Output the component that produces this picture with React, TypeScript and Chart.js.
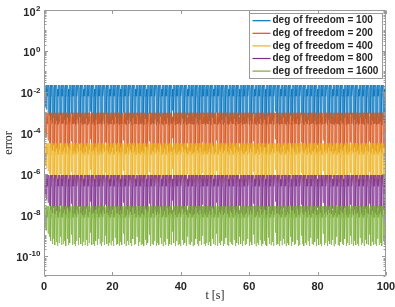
import { useEffect, useRef } from 'react';
import { Chart, registerables } from 'chart.js';

Chart.register(...registerables);

// ---- data ----
const seriesLabels = [
  'deg of freedom = 100',
  'deg of freedom = 200',
  'deg of freedom = 400',
  'deg of freedom = 800',
  'deg of freedom = 1600',
];
const seriesColors = ['#0072BD', '#D95319', '#EDB120', '#7E2F8E', '#77AC30'];
// peak error of each oscillating series
const seriesPeaks = [2.16e-2, 9.5e-4, 3.05e-5, 8.6e-7, 2.6e-8];
// depth of each trough below the peak, in decades (one trough every 0.4 s from t = 0 to t = 100)
const troughDecades = [
  -1.0, -1.1, -1.2, -1.35, -1.5, -1.7, -1.85, -1.6, -1.9, -1.75,
  -1.95, -1.8, -1.5, -1.9, -1.85, -1.7, -1.95, -1.6, -1.9, -1.8,
  -1.4, -1.9, -1.85, -1.95, -1.7, -1.9, -1.55, -1.85, -1.95, -1.75,
  -1.9, -1.65, -1.95, -1.8, -1.3, -1.9, -1.85, -1.95, -1.7, -1.9,
  -1.6, -1.85, -1.95, -1.75, -1.9, -1.45, -1.85, -1.95, -1.8, -1.9,
  -1.7, -1.95, -1.55, -1.9, -1.85, -1.95, -1.75, -1.9, -1.35, -1.85,
  -1.95, -1.7, -1.9, -1.8, -1.95, -1.6, -1.9, -1.85, -1.5, -1.95,
  -1.75, -1.9, -1.85, -1.95, -1.65, -1.9, -1.8, -1.4, -1.95, -1.85,
  -1.9, -1.7, -1.95, -1.8, -1.9, -1.55, -1.85, -1.95, -1.75, -1.9,
  -1.6, -1.95, -1.85, -1.9, -1.25, -1.8, -1.95, -1.7, -1.9, -1.85,
  -1.95, -1.65, -1.9, -1.8, -1.95, -1.5, -1.85, -1.9, -1.75, -1.95,
  -1.9, -1.6, -1.85, -1.95, -1.7, -1.9, -1.45, -1.85, -1.95, -1.8,
  -1.9, -1.75, -1.95, -1.6, -1.85, -1.9, -1.35, -1.95, -1.8, -1.9,
  -1.7, -1.95, -1.85, -1.55, -1.9, -1.95, -1.75, -1.85, -1.9, -1.65,
  -1.95, -1.8, -1.9, -1.5, -1.85, -1.95, -1.7, -1.9, -1.85, -1.6,
  -1.95, -1.75, -1.9, -1.4, -1.85, -1.95, -1.8, -1.9, -1.65, -1.95,
  -1.85, -1.7, -1.9, -1.95, -1.55, -1.85, -1.9, -1.75, -1.95, -1.3,
  -1.9, -1.85, -1.95, -1.7, -1.9, -1.6, -1.85, -1.95, -1.8, -1.9,
  -1.5, -1.95, -1.75, -1.9, -1.85, -1.65, -1.95, -1.9, -1.45, -1.85,
  -1.95, -1.8, -1.9, -1.7, -1.95, -1.55, -1.85, -1.9, -1.75, -1.95,
  -1.6, -1.9, -1.85, -1.95, -1.35, -1.9, -1.8, -1.95, -1.7, -1.85,
  -1.9, -1.65, -1.95, -1.85, -1.5, -1.9, -1.95, -1.75, -1.85, -1.9,
  -1.6, -1.95, -1.8, -1.9, -1.45, -1.85, -1.95, -1.7, -1.9, -1.85,
  -1.95, -1.55, -1.9, -1.8, -1.95, -1.65, -1.85, -1.9, -1.4, -1.95,
  -1.75, -1.9, -1.85, -1.95, -1.6, -1.9, -1.8, -1.95, -1.7, -1.9,
  -1.85,
];
const PERIOD = 0.4; // s between troughs
// shape of one oscillation between two troughs: phase (fraction of period) and level below the peak (decades)
const cyclePhase = [0.12, 0.3, 0.5, 0.7, 0.88];
const cycleDecades = [-0.55, -0.2, 0, -0.2, -0.55];
const xTicks = [0, 20, 40, 60, 80, 100];
const yMajorExponents = [2, 0, -2, -4, -6, -8, -10];
const X_MIN = 0;
const X_MAX = 100;
const Y_MIN = 1e-11;
const Y_MAX = 1e2;
const xTitle = 't [s]';
const yTitle = 'error';

// ---- styles ----
const AXIS_COLOR = '#9a9a9a';
const TEXT_COLOR = '#262626';
const SANS = '"Liberation Sans", Arial, Helvetica, sans-serif';
const SERIF = '"Liberation Serif", "Times New Roman", serif';

function buildSeries(peak: number) {
  const pts: { x: number; y: number }[] = [];
  for (let i = 0; i < troughDecades.length; i++) {
    const t0 = i * PERIOD;
    pts.push({ x: t0, y: peak * Math.pow(10, troughDecades[i]) });
    if (i < troughDecades.length - 1) {
      for (let j = 0; j < cyclePhase.length; j++) {
        pts.push({ x: t0 + cyclePhase[j] * PERIOD, y: peak * Math.pow(10, cycleDecades[j]) });
      }
    }
  }
  return pts;
}

const axesPlugin = {
  id: 'matlabAxes',
  afterDatasetsDraw(chart: any) {
    const { ctx, chartArea: a, scales } = chart;
    const xs = scales.x;
    const ys = scales.y;
    const L = Math.round(a.left) + 0.5;
    const R = Math.round(a.right) - 0.5;
    const T = Math.round(a.top) + 0.5;
    const B = Math.round(a.bottom) - 0.5;
    ctx.save();
    ctx.strokeStyle = AXIS_COLOR;
    ctx.lineWidth = 1;
    ctx.beginPath();
    ctx.rect(L, T, R - L, B - T);
    const major = 3.5;
    const minor = 2;
    xTicks.forEach((v) => {
      const px = Math.round(xs.getPixelForValue(v)) + 0.5;
      ctx.moveTo(px, B);
      ctx.lineTo(px, B - major);
      ctx.moveTo(px, T);
      ctx.lineTo(px, T + major);
    });
    yMajorExponents.forEach((e) => {
      const py = Math.round(ys.getPixelForValue(Math.pow(10, e))) + 0.5;
      ctx.moveTo(L, py);
      ctx.lineTo(L + major, py);
      ctx.moveTo(R, py);
      ctx.lineTo(R - major, py);
    });
    for (let e = -11; e < 2; e++) {
      for (let m = 1; m <= 9; m++) {
        if (m === 1 && yMajorExponents.includes(e)) continue;
        const v = m * Math.pow(10, e);
        if (v < Y_MIN || v > Y_MAX) continue;
        const py = Math.round(ys.getPixelForValue(v)) + 0.5;
        ctx.moveTo(L, py);
        ctx.lineTo(L + minor, py);
        ctx.moveTo(R, py);
        ctx.lineTo(R - minor, py);
      }
    }
    ctx.stroke();

    // y tick labels 10^e
    ctx.fillStyle = TEXT_COLOR;
    ctx.textBaseline = 'middle';
    ctx.textAlign = 'left';
    const labelRight = a.left - 4;
    yMajorExponents.forEach((e) => {
      const py = ys.getPixelForValue(Math.pow(10, e));
      ctx.font = `bold 8px ${SANS}`;
      const expText = String(e);
      const ew = ctx.measureText(expText).width;
      ctx.font = `bold 11px ${SANS}`;
      const bw = ctx.measureText('10').width;
      const x0 = labelRight - ew - bw;
      ctx.fillText('10', x0, py + 2.5);
      ctx.font = `bold 8px ${SANS}`;
      ctx.fillText(expText, x0 + bw + 0.5, py - 1.5);
    });

    // x tick labels
    ctx.textAlign = 'center';
    ctx.font = `bold 11px ${SANS}`;
    xTicks.forEach((v) => {
      ctx.fillText(String(v), xs.getPixelForValue(v), a.bottom + 10.5);
    });

    // axis titles
    ctx.font = `12px ${SERIF}`;
    ctx.fillText(xTitle, (a.left + a.right) / 2, a.bottom + 19.5);
    ctx.save();
    ctx.translate(9, (a.top + a.bottom) / 2);
    ctx.rotate(-Math.PI / 2);
    ctx.fillText(yTitle, 0, 0);
    ctx.restore();

    // legend
    const bx = 249.5;
    const by = 13.5;
    const bw = 133;
    const bh = 65;
    ctx.fillStyle = '#ffffff';
    ctx.fillRect(bx, by, bw, bh);
    ctx.strokeStyle = AXIS_COLOR;
    ctx.strokeRect(bx, by, bw, bh);
    ctx.textAlign = 'left';
    ctx.font = `bold 10px ${SANS}`;
    seriesLabels.forEach((lab, i) => {
      const ry = by + 7.2 + 12.6 * i;
      ctx.strokeStyle = seriesColors[i];
      ctx.lineWidth = 1.2;
      ctx.beginPath();
      ctx.moveTo(bx + 3, ry);
      ctx.lineTo(bx + 21, ry);
      ctx.stroke();
      ctx.fillStyle = TEXT_COLOR;
      ctx.fillText(lab, bx + 23, ry);
    });
    ctx.restore();
  },
};

export default function App() {
  const ref = useRef<HTMLCanvasElement>(null);
  useEffect(() => {
    if (!ref.current) return;
    const datasets = seriesLabels.map((label, i) => ({
      label,
      data: buildSeries(seriesPeaks[i]),
      borderColor: seriesColors[i],
      backgroundColor: seriesColors[i],
      borderWidth: 0.6,
      pointRadius: 0,
      tension: 0,
      fill: false,
      order: seriesLabels.length - i,
    }));
    const chart = new Chart(ref.current, {
      type: 'line',
      data: { datasets },
      options: {
        animation: false,
        responsive: true,
        maintainAspectRatio: false,
        parsing: false as any,
        normalized: true,
        layout: { padding: { left: 44, right: 9, top: 10, bottom: 31 } },
        scales: {
          x: { type: 'linear', min: X_MIN, max: X_MAX, display: false },
          y: { type: 'logarithmic', min: Y_MIN, max: Y_MAX, display: false },
        },
        plugins: {
          legend: { display: false },
          tooltip: { enabled: false },
        },
        events: [],
      },
      plugins: [axesPlugin],
    });
    return () => chart.destroy();
  }, []);
  return (
    <div style={{ position: 'fixed', left: 0, top: 0, width: 395, height: 307, background: '#fff' }}>
      <canvas ref={ref} />
    </div>
  );
}
